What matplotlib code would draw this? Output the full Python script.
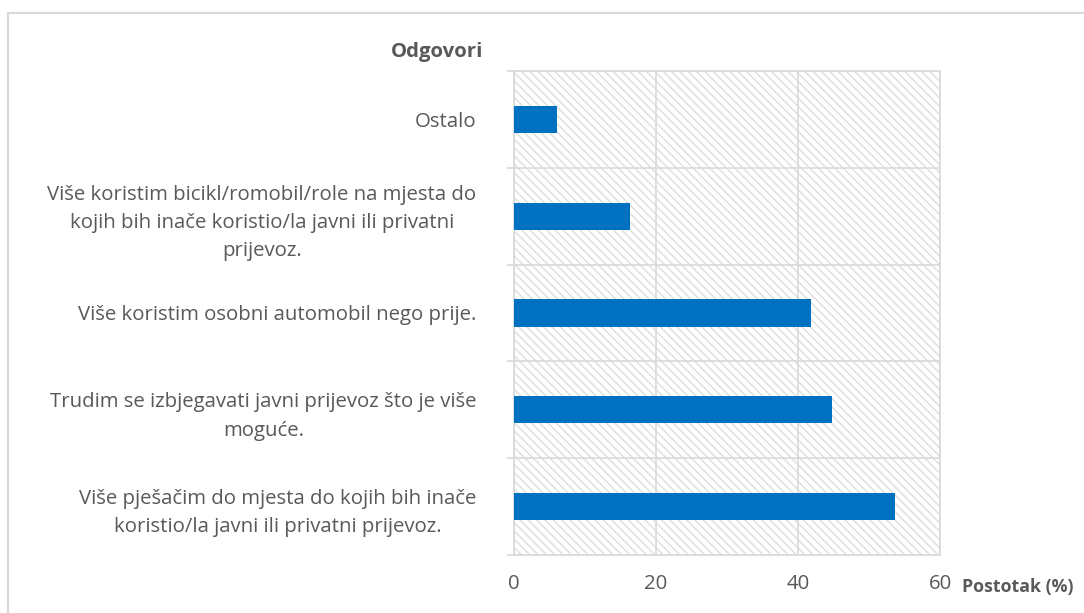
import numpy as np
import matplotlib.pyplot as plt
from matplotlib.patches import Rectangle

# Data (top to bottom)
categories = [
    'Ostalo',
    'Više koristim bicikl/romobil/role na mjesta do\nkojih bih inače koristio/la javni ili privatni\nprijevoz.',
    'Više koristim osobni automobil nego prije.',
    'Trudim se izbjegavati javni prijevoz što je više\nmoguće.',
    'Više pješačim do mjesta do kojih bih inače\nkoristio/la javni ili privatni prijevoz.',
]
values = [6.0, 16.3, 41.8, 44.8, 53.7]
x_ticks = [0, 20, 40, 60]

BAR_COLOR = '#0070C0'
GRID_COLOR = '#d9d9d9'
HATCH_COLOR = '#dedede'
TEXT_COLOR = '#595959'
FS = 14.7

plt.rcParams['font.family'] = ['Open Sans', 'DejaVu Sans']
plt.rcParams['hatch.color'] = HATCH_COLOR
plt.rcParams['hatch.linewidth'] = 1.0

fig = plt.figure(figsize=(10.84, 6.13), dpi=100)
ax = fig.add_axes([0.4742, 0.0946, 0.3930, 0.7896])

# hatched plot area background
ax.add_patch(Rectangle((0, 0), 1, 1, transform=ax.transAxes, facecolor='white',
                       edgecolor=HATCH_COLOR, hatch='\\\\\\\\', linewidth=0, zorder=0))

y = np.arange(len(categories))
ax.barh(y, values, height=0.28, color=BAR_COLOR, zorder=3)

ax.set_xlim(0, 60)
ax.set_ylim(len(categories) - 0.5, -0.5)

ax.set_xticks(x_ticks)
ax.set_yticks(y)
ax.set_yticklabels(categories, multialignment='center', linespacing=1.55)
ax.set_yticks(np.arange(-0.5, len(categories)), minor=True)

ax.tick_params(axis='y', which='major', length=0, pad=27, labelsize=FS, labelcolor=TEXT_COLOR)
ax.tick_params(axis='y', which='minor', length=5, width=1.2, color=GRID_COLOR)
ax.tick_params(axis='x', length=0, pad=14, labelsize=FS, labelcolor=TEXT_COLOR)

ax.grid(axis='x', color=GRID_COLOR, linewidth=1.2, zorder=1)
ax.grid(axis='y', which='minor', color=GRID_COLOR, linewidth=1.2, zorder=1)
ax.set_axisbelow(True)
for s in ax.spines.values():
    s.set_color(GRID_COLOR)
    s.set_linewidth(1.2)

fig.text(483 / 1084, 1 - 52 / 613, 'Odgovori', ha='right', va='center',
         fontsize=FS, fontweight='bold', color=TEXT_COLOR)
fig.text(962 / 1084, 1 - 587 / 613, 'Postotak (%)', ha='left', va='center',
         fontsize=12.8, fontweight='bold', color=TEXT_COLOR)

# outer chart border (left and top visible)
fig.add_artist(Rectangle((8 / 1084, -0.1), 1.2, 1 - 13 / 613 + 0.1, transform=fig.transFigure,
                         fill=False, edgecolor=GRID_COLOR, linewidth=1.5))

fig.savefig('out.png', dpi=100)
